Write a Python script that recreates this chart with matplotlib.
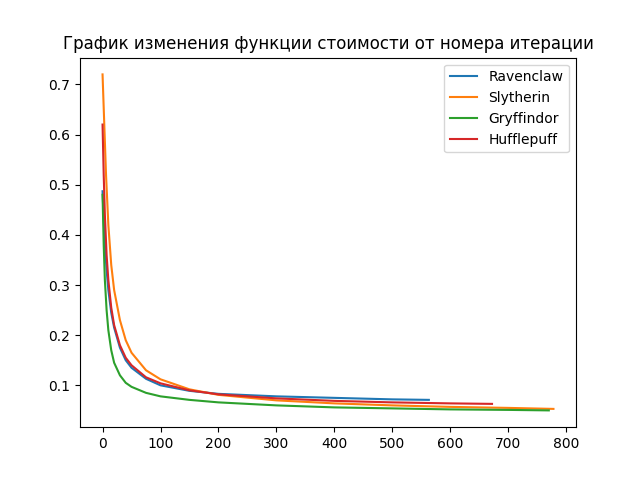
import matplotlib
matplotlib.use('Agg')
import matplotlib.pyplot as plt

# Значения (итерация, стоимость)
rav_x = [0, 2, 4, 7, 10, 15, 20, 30, 40, 50, 75, 100, 150, 200, 300, 400, 500, 563]
rav_y = [0.487, 0.43, 0.38, 0.33, 0.29, 0.245, 0.215, 0.175, 0.15, 0.135, 0.113, 0.1, 0.089, 0.083, 0.078, 0.075, 0.072, 0.071]

sly_x = [0, 3, 6, 10, 15, 20, 30, 40, 50, 75, 100, 150, 200, 300, 400, 500, 600, 700, 778]
sly_y = [0.72, 0.62, 0.52, 0.42, 0.34, 0.29, 0.23, 0.19, 0.165, 0.13, 0.112, 0.092, 0.081, 0.07, 0.064, 0.06, 0.057, 0.055, 0.053]

gry_x = [0, 2, 4, 7, 10, 15, 20, 30, 40, 50, 75, 100, 150, 200, 300, 400, 500, 600, 700, 770]
gry_y = [0.48, 0.38, 0.31, 0.25, 0.21, 0.17, 0.145, 0.12, 0.105, 0.097, 0.085, 0.078, 0.071, 0.066, 0.06, 0.056, 0.054, 0.052, 0.051, 0.05]

huf_x = [0, 2, 4, 7, 10, 15, 20, 30, 40, 50, 75, 100, 150, 200, 300, 400, 500, 600, 672]
huf_y = [0.62, 0.52, 0.44, 0.36, 0.31, 0.255, 0.22, 0.18, 0.155, 0.14, 0.116, 0.104, 0.09, 0.082, 0.074, 0.069, 0.066, 0.064, 0.063]

plt.figure(figsize=(6.4, 4.8), dpi=100)
plt.plot(rav_x, rav_y, label='Ravenclaw')
plt.plot(sly_x, sly_y, label='Slytherin')
plt.plot(gry_x, gry_y, label='Gryffindor')
plt.plot(huf_x, huf_y, label='Hufflepuff')
plt.title('График изменения функции стоимости от номера итерации')
plt.legend()
plt.savefig('out.png')
